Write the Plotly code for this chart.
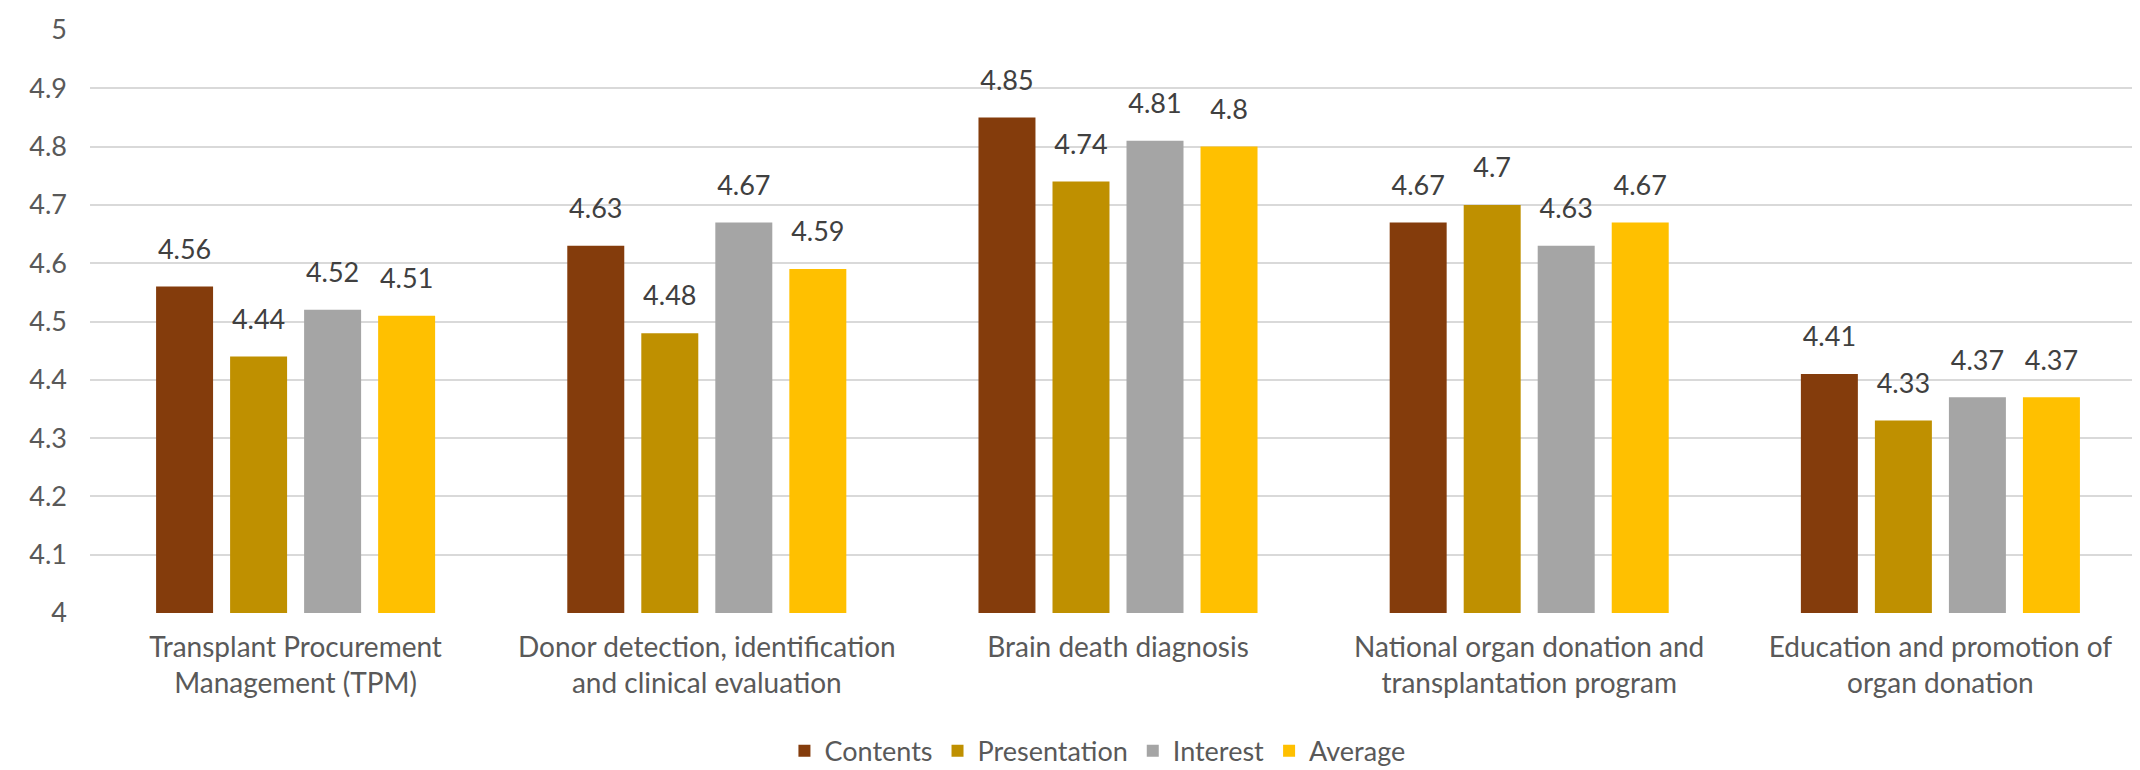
import plotly.graph_objects as go

categories = [
    "Transplant Procurement<br>Management (TPM)",
    "Donor detection, identification<br>and clinical evaluation",
    "Brain death diagnosis",
    "National organ donation and<br>transplantation program",
    "Education and promotion of<br>organ donation",
]
series_names = ["Contents", "Presentation", "Interest", "Average"]
contents = [4.56, 4.63, 4.85, 4.67, 4.41]
presentation = [4.44, 4.48, 4.74, 4.70, 4.33]
interest = [4.52, 4.67, 4.81, 4.63, 4.37]
average = [4.51, 4.59, 4.80, 4.67, 4.37]
colors = ["#843C0C", "#BF9000", "#A5A5A5", "#FFC000"]
y_tickvals = [4.0, 4.1, 4.2, 4.3, 4.4, 4.5, 4.6, 4.7, 4.8, 4.9, 5.0]
y_ticktext = ["4", "4.1", "4.2", "4.3", "4.4", "4.5", "4.6", "4.7", "4.8", "4.9", "5"]

FONT = "Lato, 'Noto Sans', sans-serif"
all_series = [contents, presentation, interest, average]

fig = go.Figure()
for i, (name, vals, col) in enumerate(zip(series_names, all_series, colors)):
    fig.add_trace(go.Bar(
        x=categories, y=vals, name=name,
        marker=dict(color=col, line=dict(width=0)),
        offsetgroup=str(i),
        hoverinfo="skip",
    ))
# data labels: grouped text scatter traces aligned with the bars
for i, (name, vals) in enumerate(zip(series_names, all_series)):
    fig.add_trace(go.Scatter(
        x=categories, y=vals, mode="markers+text",
        text=[f"{v:g}" for v in vals],
        textposition="top center",
        textfont=dict(family=FONT, size=27, color="#404040"),
        marker=dict(size=32, color="rgba(0,0,0,0)"),
        offsetgroup=str(i),
        showlegend=False, hoverinfo="skip", cliponaxis=False,
    ))

fig.update_layout(
    width=2140, height=770,
    margin=dict(l=82, r=2, t=22, b=157),
    paper_bgcolor="white", plot_bgcolor="white",
    barmode="group", bargap=0.28, bargroupgap=0.23,
    scattermode="group", scattergap=0.28,
    font=dict(family=FONT, size=27, color="#595959"),
    legend=dict(
        orientation="h", x=0.49, xanchor="center", y=-0.237, yanchor="middle",
        font=dict(family=FONT, size=27, color="#595959"),
        traceorder="normal", itemwidth=30,
    ),
    showlegend=True,
)
fig.update_yaxes(
    range=[4, 5], tickvals=y_tickvals, ticktext=y_ticktext,
    showgrid=True, gridcolor="#D9D9D9", gridwidth=1.5,
    zeroline=False, showline=False,
    tickfont=dict(family=FONT, size=27, color="#595959"),
    ticklabelstandoff=22,
)
fig.update_xaxes(
    showline=False, showgrid=False,
    tickfont=dict(family=FONT, size=28, color="#595959"),
    ticklabelstandoff=15,
)

fig.write_html("out.html")
